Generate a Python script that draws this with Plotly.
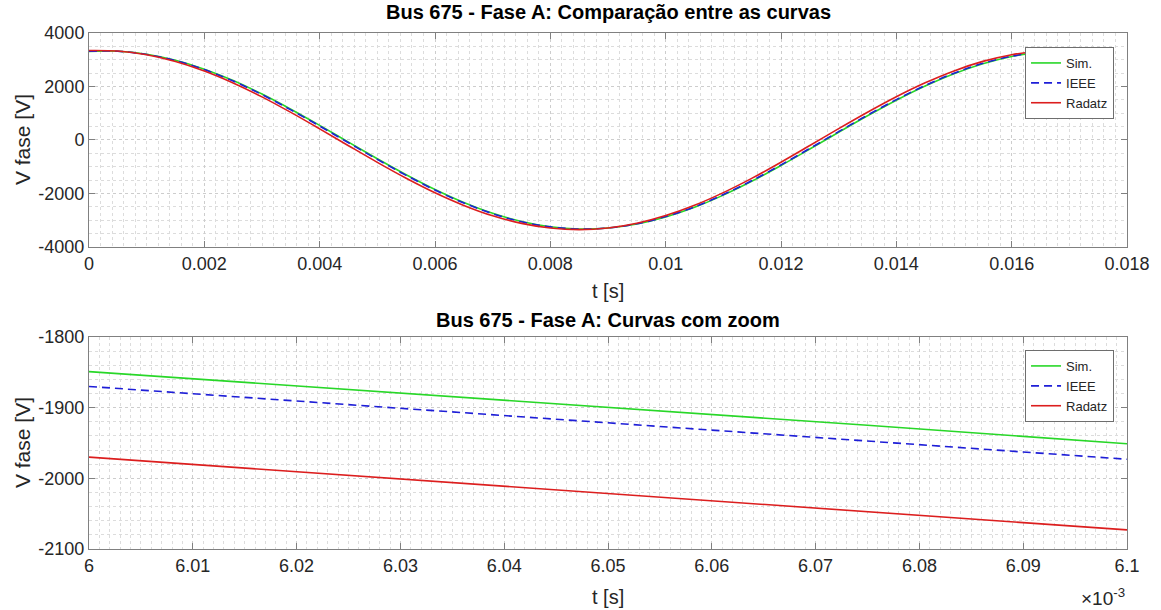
import plotly.graph_objects as go
from plotly.subplots import make_subplots

# ---- data: full cycle (t in seconds) ----
t_full = [0.0, 0.0005, 0.0010, 0.0015, 0.0020, 0.0025, 0.0030, 0.0035, 0.0040,
          0.0045, 0.0050, 0.0055, 0.0060, 0.0065, 0.0070, 0.0075, 0.0080, 0.0085,
          0.0090, 0.0095, 0.0100, 0.0105, 0.0110, 0.0115, 0.0120, 0.0125, 0.0130,
          0.0135, 0.0140, 0.0145, 0.0150, 0.0155, 0.0160, 0.0165, 0.0166]
v_sim = [3313, 3318, 3205, 2979, 2647, 2221, 1717, 1150, 545,
         -79, -701, -1298, -1850, -2336, -2741, -3046, -3243, -3327,
         -3293, -3141, -2877, -2516, -2061, -1536, -954, -339, 288,
         904, 1488, 2019, 2480, 2853, 3124, 3285, 3303]
v_ieee = [3316, 3316, 3198, 2968, 2632, 2202, 1696, 1127, 520,
          -104, -725, -1321, -1871, -2354, -2755, -3056, -3249, -3328,
          -3289, -3133, -2864, -2500, -2041, -1514, -930, -314, 313,
          928, 1510, 2039, 2497, 2866, 3133, 3289, 3306]
v_radatz = [3347, 3326, 3188, 2937, 2582, 2134, 1612, 1031, 416,
            -213, -836, -1429, -1972, -2445, -2833, -3118, -3292, -3352,
            -3293, -3116, -2827, -2443, -1968, -1426, -832, -208, 424,
            1038, 1617, 2138, 2584, 2939, 3189, 3327, 3340]

# ---- data: zoomed window (t in milliseconds) ----
t_zoom_ms = [6.000, 6.025, 6.050, 6.075, 6.100]
z_sim = [-1849, -1874, -1900, -1925, -1951]
z_ieee = [-1870, -1896, -1921, -1947, -1973]
z_radatz = [-1970, -1996, -2021, -2047, -2073]

# ---- tick labels ----
top_xticks = [0, 0.002, 0.004, 0.006, 0.008, 0.01, 0.012, 0.014, 0.016, 0.018]
top_xlabels = ["0", "0.002", "0.004", "0.006", "0.008", "0.01", "0.012", "0.014", "0.016", "0.018"]
top_yticks = [-4000, -2000, 0, 2000, 4000]
top_ylabels = ["-4000", "-2000", "0", "2000", "4000"]
bot_xticks = [6.0, 6.01, 6.02, 6.03, 6.04, 6.05, 6.06, 6.07, 6.08, 6.09, 6.1]
bot_xlabels = ["6", "6.01", "6.02", "6.03", "6.04", "6.05", "6.06", "6.07", "6.08", "6.09", "6.1"]
bot_yticks = [-2100, -2000, -1900, -1800]
bot_ylabels = ["-2100", "-2000", "-1900", "-1800"]

names = ["Sim.", "IEEE", "Radatz"]
colors = ["rgb(40,215,40)", "rgb(30,30,215)", "rgb(220,30,30)"]
dashes = ["solid", "8px,5px", "solid"]

FONT = "Liberation Sans, Arial, Helvetica, sans-serif"
AX = "rgb(128,128,128)"
TXT = "rgb(38,38,38)"

fig = make_subplots(rows=2, cols=1, vertical_spacing=0.0)

for name, col, dash, vals in zip(names, colors, dashes, [v_sim, v_ieee, v_radatz]):
    fig.add_trace(go.Scatter(x=t_full, y=vals, mode="lines", name=name,
                             line=dict(color=col, width=1.6, dash=dash, shape="spline"),
                             legend="legend"), row=1, col=1)
for name, col, dash, vals in zip(names, colors, dashes, [z_sim, z_ieee, z_radatz]):
    fig.add_trace(go.Scatter(x=t_zoom_ms, y=vals, mode="lines", name=name,
                             line=dict(color=col, width=1.6, dash=dash),
                             legend="legend2"), row=2, col=1)

common_axis = dict(showline=True, linecolor=AX, linewidth=1, mirror="ticks",
                   ticks="inside", ticklen=6, tickcolor=AX, tickwidth=1,
                   showgrid=True, gridcolor="rgb(205,205,205)", griddash="dot",
                   gridwidth=1, zeroline=False,
                   tickfont=dict(family=FONT, size=18, color=TXT))

fig.update_xaxes(**common_axis)
fig.update_yaxes(**common_axis)

minor_style = dict(showgrid=True, gridcolor="rgb(220,220,220)", griddash="dot", ticks="")

fig.update_xaxes(row=1, col=1, range=[0, 0.018], tickvals=top_xticks, ticktext=top_xlabels,
                 domain=[0, 1], minor=dict(dtick=0.0002, **minor_style))
fig.update_yaxes(row=1, col=1, range=[-4000, 4000], tickvals=top_yticks, ticktext=top_ylabels,
                 domain=[0.5853, 1.0], minor=dict(dtick=500, **minor_style))
fig.update_xaxes(row=2, col=1, range=[6.0, 6.1], tickvals=bot_xticks, ticktext=bot_xlabels,
                 domain=[0, 1], minor=dict(dtick=0.001, **minor_style))
fig.update_yaxes(row=2, col=1, range=[-2100, -1800], tickvals=bot_yticks, ticktext=bot_ylabels,
                 domain=[0.0, 0.4109], minor=dict(dtick=20, **minor_style))

legend_style = dict(bgcolor="white", bordercolor="rgb(110,110,110)", borderwidth=1,
                    font=dict(family=FONT, size=13, color=TXT),
                    xanchor="right", yanchor="top", tracegroupgap=0,
                    itemwidth=30)

annotations = [
    dict(text="<b>Bus 675 - Fase A: Comparação entre as curvas</b>", x=0.5, y=1.0407,
         font=dict(size=20, color="black")),
    dict(text="t [s]", x=0.5, y=0.5, font=dict(size=20, color=TXT)),
    dict(text="V fase [V]", x=-0.0645, y=0.7926, textangle=-90, font=dict(size=21, color=TXT)),
    dict(text="<b>Bus 675 - Fase A: Curvas com zoom</b>", x=0.5, y=0.4438,
         font=dict(size=20, color="black")),
    dict(text="t [s]", x=0.5, y=-0.093, font=dict(size=20, color=TXT)),
    dict(text="V fase [V]", x=-0.0645, y=0.2054, textangle=-90, font=dict(size=21, color=TXT)),
    dict(text="×10<sup>-3</sup>", x=1.0, y=-0.093, xanchor="right", font=dict(size=19, color=TXT)),
]
for a in annotations:
    a.setdefault("xanchor", "center")
    a.update(xref="paper", yref="paper", yanchor="middle", showarrow=False)
    a["font"]["family"] = FONT

fig.update_layout(
    width=1161, height=610,
    margin=dict(l=89, r=34, t=33, b=61),
    paper_bgcolor="white", plot_bgcolor="white",
    showlegend=True,
    legend=dict(x=0.9875, y=0.9729, **legend_style),
    legend2=dict(x=0.9875, y=0.3857, **legend_style),
    annotations=annotations,
)

fig.write_html("out.html")
